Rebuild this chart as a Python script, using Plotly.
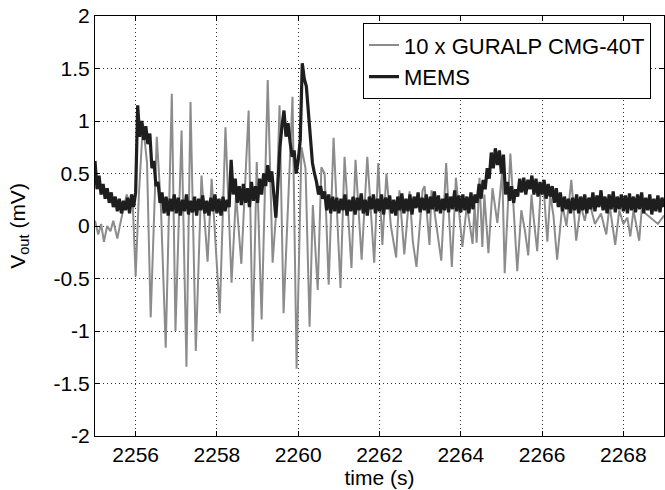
import plotly.graph_objects as go

# 10 x GURALP CMG-40T (gray) - extremes
guralp_t = [2255.00, 2255.08, 2255.15, 2255.22, 2255.30, 2255.38, 2255.45, 2255.55, 2255.62, 2255.70,
            2255.78, 2255.85, 2255.92, 2256.00, 2256.08, 2256.18, 2256.28, 2256.37, 2256.52, 2256.62,
            2256.74, 2256.89, 2256.98, 2257.13, 2257.25, 2257.35, 2257.48, 2257.62, 2257.77, 2257.87,
            2258.07, 2258.21, 2258.36, 2258.47, 2258.60, 2258.78, 2258.88, 2258.98, 2259.10, 2259.25,
            2259.37, 2259.47, 2259.54, 2259.64, 2259.86, 2259.96, 2260.08, 2260.18, 2260.28, 2260.36,
            2260.48, 2260.57, 2260.65, 2260.75, 2260.87, 2261.04, 2261.14, 2261.31, 2261.41, 2261.56,
            2261.70, 2261.87, 2261.97, 2262.07, 2262.17, 2262.28, 2262.41, 2262.49, 2262.61, 2262.74,
            2262.82, 2262.91, 2263.06, 2263.11, 2263.23, 2263.28, 2263.40, 2263.52, 2263.64, 2263.78,
            2263.88, 2264.04, 2264.15, 2264.29, 2264.34, 2264.39, 2264.46, 2264.53, 2264.58, 2264.68,
            2264.78, 2264.90, 2265.02, 2265.08, 2265.22, 2265.39, 2265.49, 2265.58, 2265.66, 2265.74,
            2265.80, 2265.88, 2265.96, 2266.04, 2266.13, 2266.20, 2266.28, 2266.37, 2266.50, 2266.60,
            2266.72, 2266.84, 2266.95, 2267.05, 2267.15, 2267.30, 2267.45, 2267.58, 2267.66, 2267.80,
            2267.90, 2268.00, 2268.10, 2268.17, 2268.25, 2268.39, 2268.45, 2268.60, 2268.75, 2268.85,
            2269.00]
guralp_v = [0.05, -0.08, 0.02, -0.15, 0.00, -0.05, 0.05, -0.12, 0.02, 0.15,
            0.30, 0.22, 0.30, -0.48, 0.30, 0.98, 0.60, -0.87, 0.85, 0.20,
            -1.16, 1.26, -1.00, 0.91, -1.34, 1.18, -1.19, 0.48, -0.34, 0.45,
            -0.83, 0.94, -0.54, 0.30, -0.36, 1.10, -1.10, 0.61, -0.89, 1.39,
            -0.35, 0.20, 1.15, -0.83, 1.23, -1.36, 0.75, 0.55, -0.96, 0.20,
            -0.61, 0.56, 0.50, -0.56, 0.84, -0.59, 0.66, -0.40, 0.63, -0.32,
            0.66, -0.35, 0.60, -0.18, 0.50, 0.00, -0.30, 0.34, -0.27, 0.33,
            -0.15, -0.39, 0.34, 0.38, -0.18, 0.34, 0.00, -0.33, 0.60, -0.39,
            0.46, -0.20, 0.20, -0.17, 0.20, -0.16, 0.46, -0.20, 0.30, -0.26,
            0.36, 0.03, 0.53, -0.45, 0.69, -0.43, 0.15, -0.05, -0.28, 0.30,
            0.05, -0.24, 0.30, 0.36, -0.15, 0.30, 0.10, -0.32, 0.20, 0.00,
            0.44, -0.14, 0.20, 0.05, 0.25, 0.02, 0.12, -0.08, 0.20, -0.18,
            0.15, 0.02, 0.08, -0.10, 0.15, -0.14, 0.15, 0.10, 0.05, 0.02,
            0.10]

# MEMS (black), one value every 0.05 s, one row per second
mems_t = [2255.00, 2255.05, 2255.10, 2255.15, 2255.20, 2255.25, 2255.30, 2255.35, 2255.40, 2255.45,
          2255.50, 2255.55, 2255.60, 2255.65, 2255.70, 2255.75, 2255.80, 2255.85, 2255.90, 2255.95,
          2256.00, 2256.05, 2256.10, 2256.15, 2256.20, 2256.25, 2256.30, 2256.35, 2256.40, 2256.45,
          2256.50, 2256.55, 2256.60, 2256.65, 2256.70, 2256.75, 2256.80, 2256.85, 2256.90, 2256.95,
          2257.00, 2257.05, 2257.10, 2257.15, 2257.20, 2257.25, 2257.30, 2257.35, 2257.40, 2257.45,
          2257.50, 2257.55, 2257.60, 2257.65, 2257.70, 2257.75, 2257.80, 2257.85, 2257.90, 2257.95,
          2258.00, 2258.05, 2258.10, 2258.15, 2258.20, 2258.25, 2258.30, 2258.35, 2258.40, 2258.45,
          2258.50, 2258.55, 2258.60, 2258.65, 2258.70, 2258.75, 2258.80, 2258.85, 2258.90, 2258.95,
          2259.00, 2259.05, 2259.10, 2259.15, 2259.20, 2259.25, 2259.30, 2259.35, 2259.40, 2259.45,
          2259.50, 2259.55, 2259.60, 2259.65, 2259.70, 2259.75, 2259.80, 2259.85, 2259.90, 2259.95,
          2260.00, 2260.05, 2260.10, 2260.15, 2260.20, 2260.25, 2260.30, 2260.35, 2260.40, 2260.45,
          2260.50, 2260.55, 2260.60, 2260.65, 2260.70, 2260.75, 2260.80, 2260.85, 2260.90, 2260.95,
          2261.00, 2261.05, 2261.10, 2261.15, 2261.20, 2261.25, 2261.30, 2261.35, 2261.40, 2261.45,
          2261.50, 2261.55, 2261.60, 2261.65, 2261.70, 2261.75, 2261.80, 2261.85, 2261.90, 2261.95,
          2262.00, 2262.05, 2262.10, 2262.15, 2262.20, 2262.25, 2262.30, 2262.35, 2262.40, 2262.45,
          2262.50, 2262.55, 2262.60, 2262.65, 2262.70, 2262.75, 2262.80, 2262.85, 2262.90, 2262.95,
          2263.00, 2263.05, 2263.10, 2263.15, 2263.20, 2263.25, 2263.30, 2263.35, 2263.40, 2263.45,
          2263.50, 2263.55, 2263.60, 2263.65, 2263.70, 2263.75, 2263.80, 2263.85, 2263.90, 2263.95,
          2264.00, 2264.05, 2264.10, 2264.15, 2264.20, 2264.25, 2264.30, 2264.35, 2264.40, 2264.45,
          2264.50, 2264.55, 2264.60, 2264.65, 2264.70, 2264.75, 2264.80, 2264.85, 2264.90, 2264.95,
          2265.00, 2265.05, 2265.10, 2265.15, 2265.20, 2265.25, 2265.30, 2265.35, 2265.40, 2265.45,
          2265.50, 2265.55, 2265.60, 2265.65, 2265.70, 2265.75, 2265.80, 2265.85, 2265.90, 2265.95,
          2266.00, 2266.05, 2266.10, 2266.15, 2266.20, 2266.25, 2266.30, 2266.35, 2266.40, 2266.45,
          2266.50, 2266.55, 2266.60, 2266.65, 2266.70, 2266.75, 2266.80, 2266.85, 2266.90, 2266.95,
          2267.00, 2267.05, 2267.10, 2267.15, 2267.20, 2267.25, 2267.30, 2267.35, 2267.40, 2267.45,
          2267.50, 2267.55, 2267.60, 2267.65, 2267.70, 2267.75, 2267.80, 2267.85, 2267.90, 2267.95,
          2268.00, 2268.05, 2268.10, 2268.15, 2268.20, 2268.25, 2268.30, 2268.35, 2268.40, 2268.45,
          2268.50, 2268.55, 2268.60, 2268.65, 2268.70, 2268.75, 2268.80, 2268.85, 2268.90, 2268.95,
          2269.00]
mems_v = [0.62, 0.35, 0.48, 0.30, 0.40, 0.26, 0.36, 0.22, 0.32, 0.18,
          0.28, 0.14, 0.26, 0.12, 0.24, 0.15, 0.27, 0.12, 0.30, 0.18,
          0.32, 1.15, 0.85, 1.00, 0.82, 0.95, 0.78, 0.88, 0.55, 0.62,
          0.38, 0.42, 0.22, 0.32, 0.12, 0.28, 0.10, 0.26, 0.14, 0.30,
          0.12, 0.27, 0.10, 0.25, 0.14, 0.30, 0.11, 0.24, 0.13, 0.28,
          0.10, 0.26, 0.15, 0.29, 0.12, 0.24, 0.10, 0.27, 0.14, 0.30,
          0.12, 0.26, 0.10, 0.28, 0.14, 0.25, 0.18, 0.63, 0.30, 0.45,
          0.22, 0.38, 0.20, 0.40, 0.22, 0.36, 0.18, 0.42, 0.24, 0.38,
          0.22, 0.45, 0.30, 0.50, 0.38, 0.58, 0.42, 0.52, 0.30, 0.08,
          0.40, 0.75, 0.95, 1.10, 0.85, 0.98, 0.80, 0.66, 0.72, 0.50,
          0.62, 0.82, 1.55, 1.40, 1.33, 1.10, 0.88, 0.60, 0.50, 0.42,
          0.30, 0.38, 0.26, 0.33, 0.15, 0.30, 0.12, 0.28, 0.14, 0.27,
          0.12, 0.26, 0.15, 0.30, 0.10, 0.25, 0.14, 0.28, 0.11, 0.27,
          0.15, 0.31, 0.12, 0.25, 0.10, 0.28, 0.16, 0.30, 0.12, 0.26,
          0.14, 0.30, 0.11, 0.27, 0.16, 0.29, 0.12, 0.25, 0.10, 0.28,
          0.15, 0.31, 0.12, 0.26, 0.14, 0.30, 0.11, 0.28, 0.17, 0.32,
          0.13, 0.27, 0.15, 0.30, 0.12, 0.28, 0.16, 0.33, 0.14, 0.29,
          0.12, 0.26, 0.15, 0.31, 0.13, 0.28, 0.16, 0.34, 0.14, 0.29,
          0.13, 0.30, 0.15, 0.28, 0.12, 0.32, 0.16, 0.30, 0.22, 0.40,
          0.26, 0.44, 0.35, 0.55, 0.45, 0.70, 0.55, 0.74, 0.58, 0.72,
          0.50, 0.68, 0.30, 0.42, 0.24, 0.38, 0.22, 0.35, 0.28, 0.45,
          0.32, 0.46, 0.30, 0.44, 0.35, 0.48, 0.30, 0.45, 0.28, 0.42,
          0.30, 0.44, 0.26, 0.40, 0.28, 0.38, 0.22, 0.36, 0.18, 0.32,
          0.14, 0.28, 0.16, 0.26, 0.12, 0.27, 0.15, 0.30, 0.12, 0.28,
          0.15, 0.30, 0.12, 0.27, 0.16, 0.32, 0.14, 0.29, 0.18, 0.34,
          0.15, 0.28, 0.12, 0.30, 0.16, 0.33, 0.13, 0.28, 0.16, 0.30,
          0.14, 0.29, 0.12, 0.31, 0.15, 0.28, 0.13, 0.30, 0.16, 0.32,
          0.12, 0.27, 0.15, 0.30, 0.11, 0.26, 0.14, 0.29, 0.13, 0.27,
          0.18]

x_ticks = [2256, 2258, 2260, 2262, 2264, 2266, 2268]
y_ticks = [-2, -1.5, -1, -0.5, 0, 0.5, 1, 1.5, 2]
y_labels = ["-2", "-1.5", "-1", "-0.5", "0", "0.5", "1", "1.5", "2"]

FONT = "Liberation Sans, Arial, sans-serif"

fig = go.Figure()
fig.add_trace(go.Scatter(x=guralp_t, y=guralp_v, mode="lines", name="10 x GURALP CMG-40T",
                         line=dict(color="#8c8c8c", width=2)))
fig.add_trace(go.Scatter(x=mems_t, y=mems_v, mode="lines", name="MEMS",
                         line=dict(color="#1e1e1e", width=3.2)))

axis_common = dict(showline=True, linecolor="black", linewidth=1, mirror="ticks",
                   ticks="inside", ticklen=5, tickcolor="black",
                   showgrid=True, gridcolor="#333333", griddash="1px,3px", gridwidth=1,
                   zeroline=False, automargin=False,
                   tickfont=dict(size=21, color="black", family=FONT))

fig.update_xaxes(range=[2255, 2269], tickvals=x_ticks, tickformat="d",
                 title=dict(text="time (s)", font=dict(size=21, family=FONT), standoff=2),
                 **axis_common)
fig.update_yaxes(range=[-2, 2], tickvals=y_ticks, ticktext=y_labels,
                 title=dict(text="V<sub>out</sub> (mV)", font=dict(size=21, family=FONT), standoff=22),
                 **axis_common)

fig.update_layout(
    width=665, height=490,
    margin=dict(l=95, r=1, t=16, b=54, autoexpand=False),
    plot_bgcolor="white", paper_bgcolor="white",
    font=dict(family=FONT, color="black"),
    legend=dict(x=(363 - 95) / 569, y=0.983, xanchor="left", yanchor="top",
                bgcolor="white", bordercolor="black", borderwidth=1,
                font=dict(size=22, family=FONT), tracegroupgap=0),
    showlegend=True,
)

# the page body has a default 8px margin; drop it so the figure sits at the window's corner
fig.write_html("out.html", config={"displayModeBar": False},
               post_script="document.body.style.margin='0px';")
